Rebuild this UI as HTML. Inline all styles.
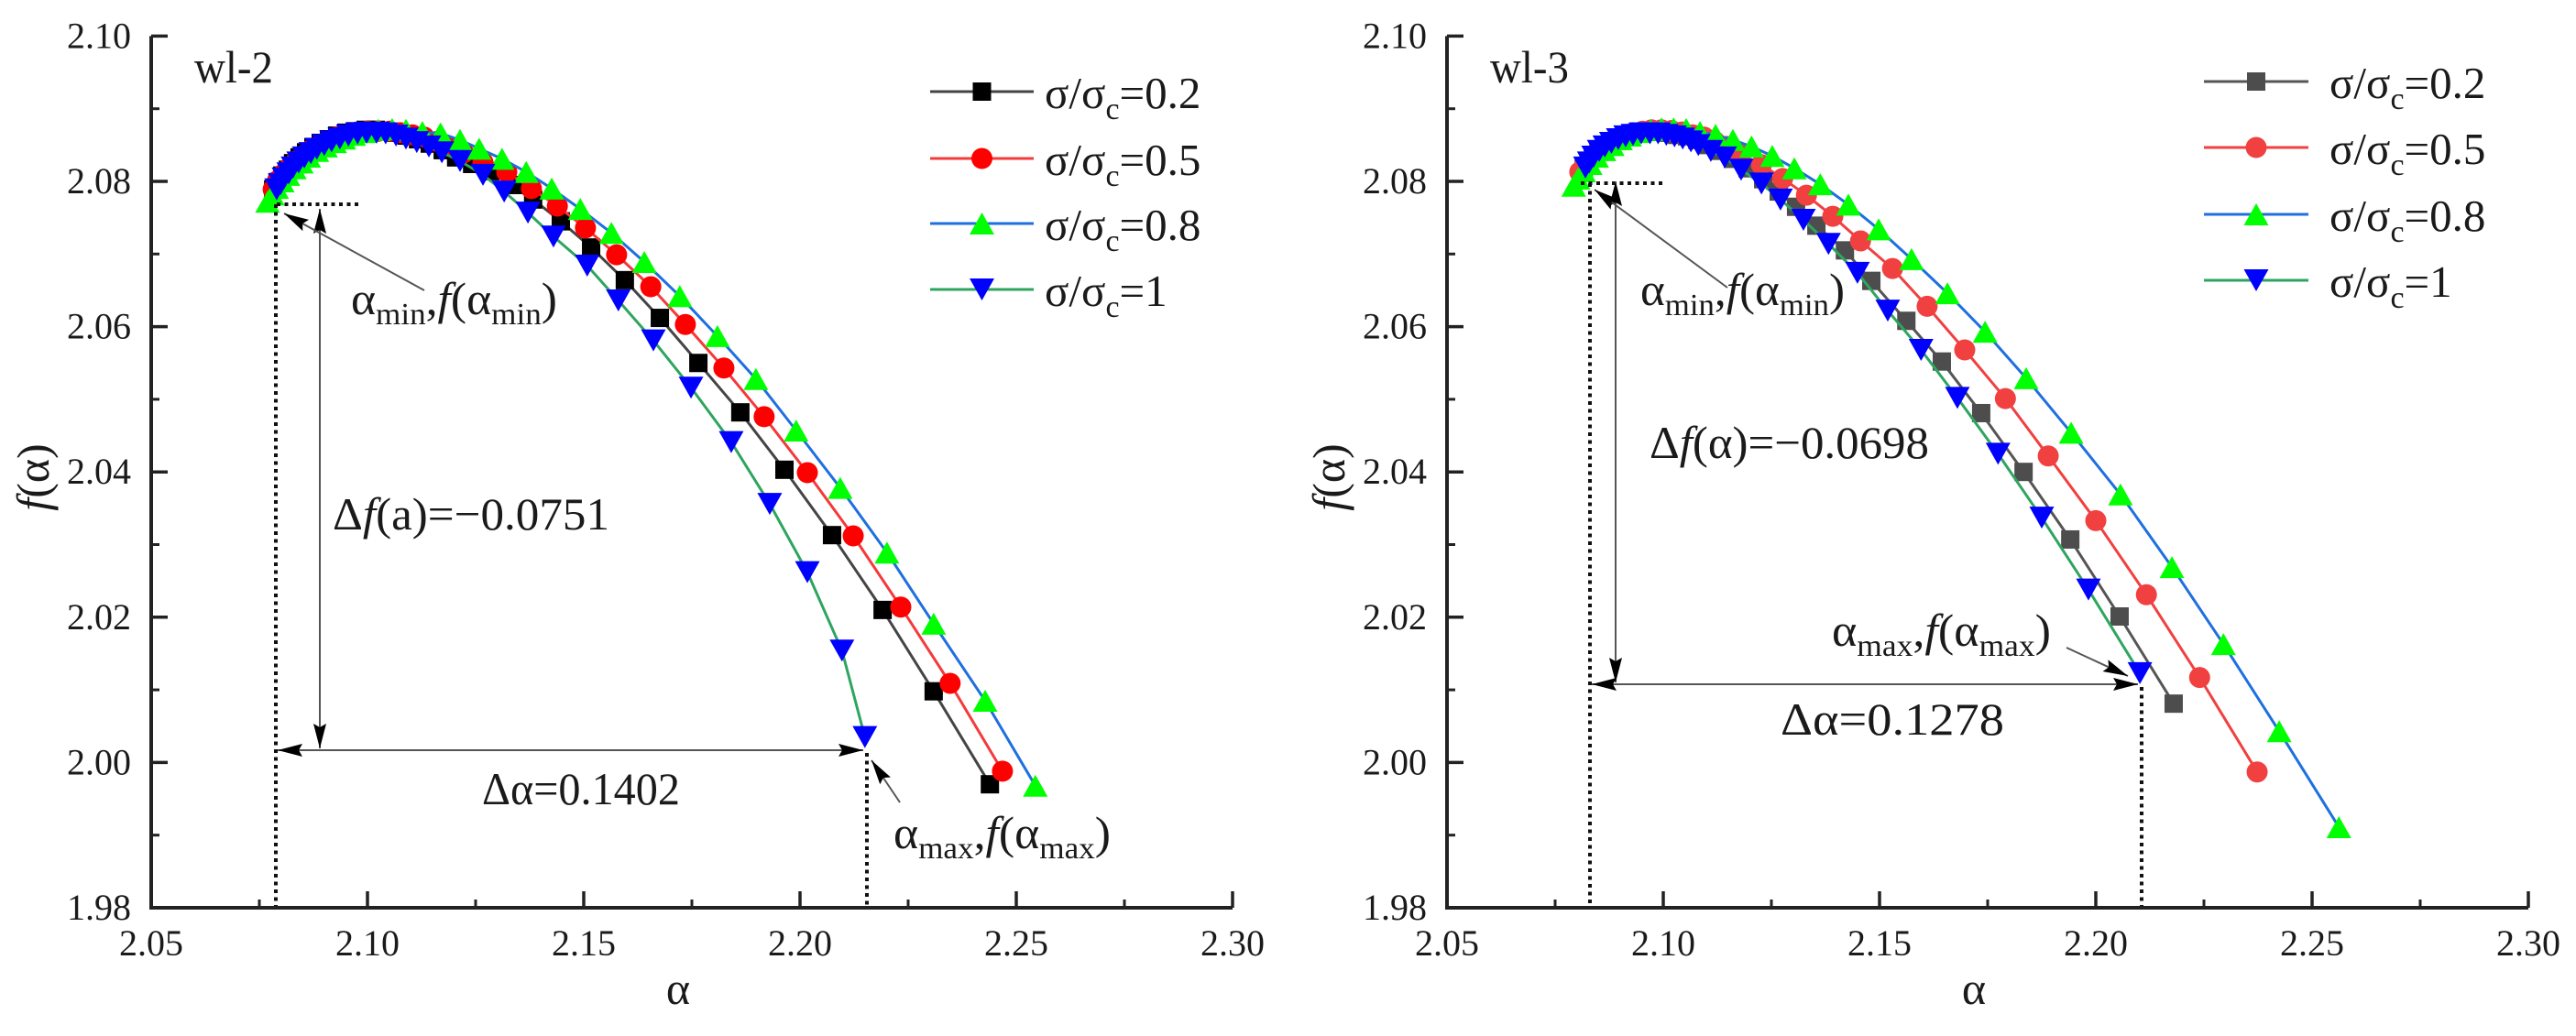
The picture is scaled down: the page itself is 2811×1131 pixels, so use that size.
<!DOCTYPE html>
<html lang="en">
<head>
<meta charset="utf-8">
<title>Multifractal spectrum f(α) for wl-2 and wl-3</title>
<style>
html,body{margin:0;padding:0;background:#fff;}
svg{display:block;}
text{font-family:"Liberation Serif",serif;fill:#1a1a1a;}
.note{font-size:50px;}
.sub{font-size:34px;}
.tick{font-size:40px;}
.leg{font-size:49px;}
.dot{stroke:#111;stroke-width:4;stroke-dasharray:4 4.5;fill:none;}
.arr{stroke:#555;stroke-width:2;fill:none;}
</style>
</head>
<body>
<svg id="chart" xmlns="http://www.w3.org/2000/svg" width="2811" height="1131" viewBox="0 0 2811 1131">
<defs>
<marker id="ah" markerUnits="userSpaceOnUse" markerWidth="30" markerHeight="18" refX="27" refY="8" orient="auto-start-reverse">
<path d="M0,1 L27,8 L0,15 L4,8 Z" fill="#000"/>
</marker>
</defs>
<rect x="0" y="0" width="2811" height="1131" fill="#fff"/>

<g id="panel-left"></g>
<g id="panel-right"></g>

<!-- left panel annotations -->
<g>
<text class="note" x="212" y="90" textLength="86" lengthAdjust="spacingAndGlyphs">wl-2</text>
<path class="dot" d="M302,223 H392"/>
<path class="dot" d="M301,223 V989"/>
<path class="dot" d="M946,822 V989"/>
<path class="arr" d="M349,228 V817" marker-start="url(#ah)" marker-end="url(#ah)"/>
<path class="arr" d="M303,819 H942" marker-start="url(#ah)" marker-end="url(#ah)"/>
<path class="arr" d="M463,317 L310,233" marker-end="url(#ah)"/>
<path class="arr" d="M982,876 L951,830" marker-end="url(#ah)"/>
<text class="note" x="383" y="343" textLength="225" lengthAdjust="spacingAndGlyphs">α<tspan class="sub" dy="11">min</tspan><tspan dy="-11">,</tspan><tspan font-style="italic">f</tspan>(α<tspan class="sub" dy="11">min</tspan><tspan dy="-11">)</tspan></text>
<text class="note" x="363" y="578" textLength="302" lengthAdjust="spacingAndGlyphs">Δ<tspan font-style="italic">f</tspan>(a)=−0.0751</text>
<text class="note" x="526" y="878" textLength="216" lengthAdjust="spacingAndGlyphs">Δα=0.1402</text>
<text class="note" x="975" y="926" textLength="237" lengthAdjust="spacingAndGlyphs">α<tspan class="sub" dy="11">max</tspan><tspan dy="-11">,</tspan><tspan font-style="italic">f</tspan>(α<tspan class="sub" dy="11">max</tspan><tspan dy="-11">)</tspan></text>
</g>

<!-- right panel annotations -->
<g>
<text class="note" x="1626" y="90" textLength="86" lengthAdjust="spacingAndGlyphs">wl-3</text>
<path class="dot" d="M1725,200 H1815"/>
<path class="dot" d="M1735,200 V989"/>
<path class="dot" d="M2337,750 V989"/>
<path class="arr" d="M1763,198 V745" marker-start="url(#ah)" marker-end="url(#ah)"/>
<path class="arr" d="M1737,747 H2333" marker-start="url(#ah)" marker-end="url(#ah)"/>
<path class="arr" d="M1885,314 L1740,207" marker-end="url(#ah)"/>
<path class="arr" d="M2255,707 L2322,738" marker-end="url(#ah)"/>
<text class="note" x="1790" y="333" textLength="223" lengthAdjust="spacingAndGlyphs">α<tspan class="sub" dy="11">min</tspan><tspan dy="-11">,</tspan><tspan font-style="italic">f</tspan>(α<tspan class="sub" dy="11">min</tspan><tspan dy="-11">)</tspan></text>
<text class="note" x="1800" y="500" textLength="305" lengthAdjust="spacingAndGlyphs">Δ<tspan font-style="italic">f</tspan>(α)=−0.0698</text>
<text class="note" x="1943" y="802" textLength="244" lengthAdjust="spacingAndGlyphs">Δα=0.1278</text>
<text class="note" x="1999" y="705" textLength="239" lengthAdjust="spacingAndGlyphs">α<tspan class="sub" dy="11">max</tspan><tspan dy="-11">,</tspan><tspan font-style="italic">f</tspan>(α<tspan class="sub" dy="11">max</tspan><tspan dy="-11">)</tspan></text>
</g>
</svg>

<script>
// ---- tick labels ----
const xTickLabels = ["2.05", "2.10", "2.15", "2.20", "2.25", "2.30"];
const xMinorTicks = [2.075, 2.125, 2.175, 2.225, 2.275];
const yTickLabels = ["1.98", "2.00", "2.02", "2.04", "2.06", "2.08", "2.10"];
const yMinorTicks = [1.99, 2.01, 2.03, 2.05, 2.07, 2.09];
const legendLabels = ["0.2", "0.5", "0.8", "1"];

// ---- wl-2 series ----
const wl2Alpha02 = [2.0782,2.0792,2.0803,2.0816,2.0828,2.0843,2.0858,2.0875,2.0892,2.0911,2.0930,2.0951,2.0972,2.0996,2.1019,2.1042,2.1066,2.1091,2.1117,2.1144,2.1174,2.1205,2.1242,2.1284,2.1337,2.1383,2.1447,2.1517,2.1595,2.1676,2.1765,2.1862,2.1964,2.2074,2.2191,2.2309,2.2439];
const wl2F02 = [2.0789,2.0799,2.0808,2.0816,2.0825,2.0833,2.0840,2.0847,2.0853,2.0858,2.0863,2.0867,2.0869,2.0871,2.0871,2.0869,2.0867,2.0863,2.0858,2.0852,2.0843,2.0833,2.0824,2.0814,2.0795,2.0775,2.0745,2.0709,2.0664,2.0612,2.0550,2.0482,2.0403,2.0313,2.0210,2.0098,1.9970];
const wl2Alpha05 = [2.0782,2.0792,2.0805,2.0820,2.0835,2.0852,2.0869,2.0888,2.0907,2.0928,2.0951,2.0975,2.1000,2.1025,2.1051,2.1076,2.1104,2.1131,2.1161,2.1191,2.1222,2.1267,2.1322,2.1379,2.1439,2.1504,2.1576,2.1655,2.1735,2.1824,2.1917,2.2017,2.2123,2.2233,2.2347,2.2468];
const wl2F05 = [2.0789,2.0801,2.0810,2.0819,2.0828,2.0835,2.0843,2.0849,2.0855,2.0861,2.0864,2.0867,2.0869,2.0869,2.0869,2.0867,2.0864,2.0861,2.0855,2.0848,2.0839,2.0826,2.0813,2.0790,2.0766,2.0736,2.0699,2.0655,2.0603,2.0543,2.0476,2.0399,2.0312,2.0214,2.0109,1.9988];
const wl2Alpha08 = [2.0769,2.0780,2.0790,2.0803,2.0816,2.0831,2.0847,2.0864,2.0883,2.0903,2.0924,2.0945,2.0968,2.0994,2.1025,2.1057,2.1089,2.1127,2.1169,2.1214,2.1258,2.1311,2.1367,2.1426,2.1492,2.1564,2.1640,2.1722,2.1809,2.1898,2.1991,2.2093,2.2201,2.2309,2.2428,2.2544];
const wl2F08 = [2.0772,2.0782,2.0791,2.0800,2.0809,2.0818,2.0826,2.0834,2.0842,2.0848,2.0854,2.0859,2.0864,2.0868,2.0871,2.0872,2.0871,2.0868,2.0866,2.0857,2.0845,2.0831,2.0813,2.0790,2.0762,2.0729,2.0689,2.0642,2.0587,2.0528,2.0457,2.0378,2.0289,2.0191,2.0085,1.9968];
const wl2Alpha10 = [2.0790,2.0799,2.0807,2.0818,2.0828,2.0841,2.0854,2.0869,2.0883,2.0900,2.0917,2.0936,2.0956,2.0977,2.0998,2.1021,2.1042,2.1066,2.1089,2.1114,2.1142,2.1172,2.1214,2.1267,2.1316,2.1371,2.1430,2.1508,2.1580,2.1661,2.1748,2.1841,2.1930,2.2017,2.2097,2.2150];
const wl2F10 = [2.0789,2.0796,2.0804,2.0811,2.0819,2.0826,2.0833,2.0839,2.0845,2.0850,2.0855,2.0859,2.0863,2.0866,2.0867,2.0867,2.0866,2.0863,2.0859,2.0854,2.0848,2.0840,2.0828,2.0809,2.0786,2.0757,2.0724,2.0684,2.0636,2.0581,2.0516,2.0441,2.0356,2.0262,2.0154,2.0035];

// ---- wl-3 series ----
const wl3Alpha02 = [2.0816,2.0827,2.0837,2.0850,2.0863,2.0877,2.0894,2.0911,2.0930,2.0949,2.0969,2.0990,2.1011,2.1032,2.1055,2.1079,2.1104,2.1132,2.1161,2.1195,2.1231,2.1267,2.1307,2.1354,2.1420,2.1481,2.1562,2.1644,2.1735,2.1833,2.1941,2.2055,2.2180];
const wl3F02 = [2.0818,2.0826,2.0834,2.0842,2.0848,2.0854,2.0859,2.0863,2.0866,2.0868,2.0869,2.0868,2.0867,2.0864,2.0862,2.0857,2.0850,2.0842,2.0831,2.0818,2.0803,2.0786,2.0765,2.0739,2.0705,2.0663,2.0608,2.0552,2.0481,2.0400,2.0307,2.0201,2.0081];
const wl3Alpha05 = [2.0807,2.0818,2.0831,2.0844,2.0858,2.0875,2.0892,2.0911,2.0930,2.0952,2.0973,2.0996,2.1019,2.1043,2.1068,2.1094,2.1119,2.1146,2.1174,2.1227,2.1276,2.1331,2.1392,2.1456,2.1530,2.1610,2.1697,2.1791,2.1890,2.2000,2.2117,2.2240,2.2373];
const wl3F05 = [2.0813,2.0821,2.0830,2.0838,2.0845,2.0853,2.0858,2.0863,2.0867,2.0869,2.0871,2.0871,2.0870,2.0868,2.0864,2.0861,2.0855,2.0848,2.0839,2.0823,2.0804,2.0781,2.0752,2.0718,2.0680,2.0628,2.0568,2.0501,2.0422,2.0333,2.0231,2.0117,1.9987];
const wl3Alpha08 = [2.0793,2.0803,2.0816,2.0831,2.0846,2.0863,2.0882,2.0901,2.0922,2.0945,2.0971,2.0996,2.1024,2.1053,2.1085,2.1121,2.1161,2.1204,2.1252,2.1303,2.1363,2.1428,2.1498,2.1574,2.1657,2.1744,2.1839,2.1943,2.2057,2.2176,2.2295,2.2424,2.2562];
const wl3F08 = [2.0794,2.0804,2.0814,2.0824,2.0834,2.0843,2.0850,2.0858,2.0863,2.0868,2.0871,2.0873,2.0873,2.0872,2.0868,2.0864,2.0857,2.0848,2.0835,2.0818,2.0796,2.0768,2.0734,2.0693,2.0646,2.0593,2.0529,2.0454,2.0369,2.0269,2.0163,2.0043,1.9911];
const wl3Alpha10 = [2.0820,2.0829,2.0839,2.0852,2.0865,2.0880,2.0896,2.0913,2.0930,2.0949,2.0969,2.0988,2.1007,2.1026,2.1045,2.1064,2.1081,2.1110,2.1142,2.1180,2.1227,2.1271,2.1324,2.1382,2.1449,2.1519,2.1596,2.1680,2.1774,2.1875,2.1983,2.2102];
const wl3F10 = [2.0819,2.0826,2.0834,2.0842,2.0848,2.0853,2.0858,2.0862,2.0864,2.0866,2.0866,2.0866,2.0864,2.0862,2.0859,2.0855,2.0850,2.0842,2.0833,2.0816,2.0797,2.0775,2.0747,2.0714,2.0674,2.0622,2.0568,2.0502,2.0425,2.0337,2.0238,2.0123];

// ---- axis functions ----
const SVGNS = "http://www.w3.org/2000/svg";
const Y_BOTTOM = 991, Y_PER_UNIT = 7930, X_PER_UNIT = 4720;
function yScale(v) { return Y_BOTTOM - (v - 1.98) * Y_PER_UNIT; }
function xScaleFor(x0) { return function (v) { return x0 + (v - 2.05) * X_PER_UNIT; }; }

function make(parent, tag, attrs) {
  const el = document.createElementNS(SVGNS, tag);
  for (const k in attrs) el.setAttribute(k, attrs[k]);
  parent.appendChild(el);
  return el;
}

function drawMarker(parent, shape, fill, cx, cy) {
  let el;
  if (shape === "square") {
    el = make(parent, "rect", { x: cx - 10, y: cy - 10, width: 20, height: 20, fill: fill });
  } else if (shape === "circle") {
    el = make(parent, "circle", { cx: cx, cy: cy, r: 11.5, fill: fill });
  } else if (shape === "up") {
    el = make(parent, "polygon", { points: (cx - 13.5) + "," + (cy + 12) + " " + (cx + 13.5) + "," + (cy + 12) + " " + cx + "," + (cy - 12), fill: fill });
  } else {
    el = make(parent, "polygon", { points: (cx - 13.5) + "," + (cy - 12) + " " + (cx + 13.5) + "," + (cy - 12) + " " + cx + "," + (cy + 12), fill: fill });
  }
  
  
  return el;
}

function drawSeries(parent, x, xs, ys, lineColor, markerFill, shape, seriesName) {
  const g = make(parent, "g", {});
  
  
  const pts = xs.map(function (a, i) { return x(a).toFixed(1) + "," + yScale(ys[i]).toFixed(1); }).join(" ");
  const line = make(g, "polyline", { points: pts, fill: "none", stroke: lineColor, "stroke-width": 3, "stroke-linejoin": "round" });
  
  
  xs.forEach(function (a, i) { drawMarker(g, shape, markerFill, x(a), yScale(ys[i])); });
}

function drawAxes(parent, x, x0) {
  const axisColor = "#222";
  const yAxis = make(parent, "line", { x1: x0, y1: yScale(2.10), x2: x0, y2: Y_BOTTOM + 2, stroke: axisColor, "stroke-width": 4 });
  
  
  const xAxis = make(parent, "line", { x1: x0 - 2, y1: Y_BOTTOM, x2: x(2.30), y2: Y_BOTTOM, stroke: axisColor, "stroke-width": 4 });
  
  

  xTickLabels.forEach(function (lab) {
    const v = parseFloat(lab);
    const t = make(parent, "line", { x1: x(v), y1: Y_BOTTOM, x2: x(v), y2: Y_BOTTOM - 18, stroke: axisColor, "stroke-width": 3.5 });
    
    
    const tx = make(parent, "text", { x: x(v), y: 1043, "text-anchor": "middle", class: "tick" });
    tx.textContent = lab;
    
    
  });
  xMinorTicks.forEach(function (v) {
    const t = make(parent, "line", { x1: x(v), y1: Y_BOTTOM, x2: x(v), y2: Y_BOTTOM - 9, stroke: axisColor, "stroke-width": 3 });
    
    
  });
  yTickLabels.forEach(function (lab) {
    const v = parseFloat(lab);
    const t = make(parent, "line", { x1: x0, y1: yScale(v), x2: x0 + 18, y2: yScale(v), stroke: axisColor, "stroke-width": 3.5 });
    
    
    const tx = make(parent, "text", { x: x0 - 22, y: yScale(v) + 13, "text-anchor": "end", class: "tick" });
    tx.textContent = lab;
    
    
  });
  yMinorTicks.forEach(function (v) {
    const t = make(parent, "line", { x1: x0, y1: yScale(v), x2: x0 + 9, y2: yScale(v), stroke: axisColor, "stroke-width": 3 });
    
    
  });

  const xTitle = make(parent, "text", { x: x0 + 575, y: 1096, "text-anchor": "middle", "font-size": 50 });
  xTitle.textContent = "α";
  
  

  const yTitle = make(parent, "text", { transform: "translate(" + (x0 - 112) + ",521) rotate(-90)", "text-anchor": "middle", "font-size": 50 });
  const fPart = make(yTitle, "tspan", { "font-style": "italic" });
  fPart.textContent = "f";
  const rest = make(yTitle, "tspan", {});
  rest.textContent = "(α)";
  
  
}

function drawLegend(parent, lineStart, lineEnd, textX, rowYs, styles) {
  legendLabels.forEach(function (lab, i) {
    const g = make(parent, "g", {});
    
    
    const st = styles[i];
    make(g, "line", { x1: lineStart, y1: rowYs[i], x2: lineEnd, y2: rowYs[i], stroke: st[0], "stroke-width": 3 });
    drawMarker(g, st[2], st[1], (lineStart + lineEnd) / 2, rowYs[i]);
    const t = make(g, "text", { x: textX, y: rowYs[i] + 18, class: "leg" });
    const a = make(t, "tspan", {});
    a.textContent = "σ/σ";
    const c = make(t, "tspan", { class: "sub", dy: 12 });
    c.textContent = "c";
    const b = make(t, "tspan", { dy: -12 });
    b.textContent = "=" + lab;
  });
}

// ---- draw left panel ----
const leftPanel = document.getElementById("panel-left");
const LEFT_X0 = 165;
const xLeft = xScaleFor(LEFT_X0);
const leftStyles = [["#444", "#000", "square"], ["#f43a3a", "#f00", "circle"], ["#1e6fe0", "#0f0", "up"], ["#2ea55f", "#00f", "down"]];
drawAxes(leftPanel, xLeft, LEFT_X0);
drawSeries(leftPanel, xLeft, wl2Alpha02, wl2F02, leftStyles[0][0], leftStyles[0][1], leftStyles[0][2], "series-ratio-0.2");
drawSeries(leftPanel, xLeft, wl2Alpha05, wl2F05, leftStyles[1][0], leftStyles[1][1], leftStyles[1][2], "series-ratio-0.5");
drawSeries(leftPanel, xLeft, wl2Alpha08, wl2F08, leftStyles[2][0], leftStyles[2][1], leftStyles[2][2], "series-ratio-0.8");
drawSeries(leftPanel, xLeft, wl2Alpha10, wl2F10, leftStyles[3][0], leftStyles[3][1], leftStyles[3][2], "series-ratio-1");
drawLegend(leftPanel, 1015, 1128, 1140, [100, 173, 244, 316], leftStyles);

// ---- draw right panel ----
const rightPanel = document.getElementById("panel-right");
const RIGHT_X0 = 1579;
const xRight = xScaleFor(RIGHT_X0);
const rightStyles = [["#555", "#4d4d4d", "square"], ["#f04040", "#f04040", "circle"], ["#1e6fe0", "#0f0", "up"], ["#2ea55f", "#00f", "down"]];
drawAxes(rightPanel, xRight, RIGHT_X0);
drawSeries(rightPanel, xRight, wl3Alpha02, wl3F02, rightStyles[0][0], rightStyles[0][1], rightStyles[0][2], "series-ratio-0.2");
drawSeries(rightPanel, xRight, wl3Alpha05, wl3F05, rightStyles[1][0], rightStyles[1][1], rightStyles[1][2], "series-ratio-0.5");
drawSeries(rightPanel, xRight, wl3Alpha08, wl3F08, rightStyles[2][0], rightStyles[2][1], rightStyles[2][2], "series-ratio-0.8");
drawSeries(rightPanel, xRight, wl3Alpha10, wl3F10, rightStyles[3][0], rightStyles[3][1], rightStyles[3][2], "series-ratio-1");
drawLegend(rightPanel, 2405, 2519, 2542, [89, 161, 234, 306], rightStyles);
</script>
</body>
</html>
